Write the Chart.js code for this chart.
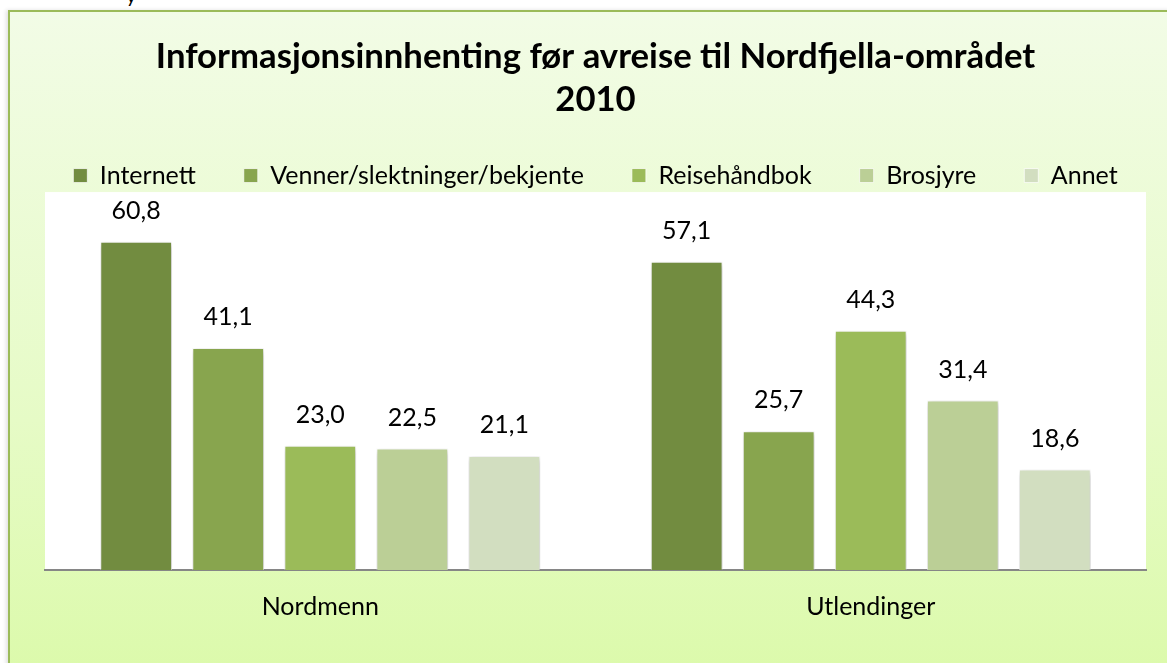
<!DOCTYPE html>
<html>
<head>
<meta charset="utf-8">
<script src="https://cdn.jsdelivr.net/npm/chart.js@4/dist/chart.umd.min.js"></script>
<style>
  html, body { margin: 0; padding: 0; width: 1167px; height: 663px; overflow: hidden; background: #fff; }
  #frame {
    position: absolute; left: 8px; top: 10px; width: 1180px; height: 680px;
    border-left: 2px solid #9bbb59; border-top: 2px solid #9bbb59;
    background: linear-gradient(to bottom, #f2fce6 0%, #e6fbc6 60%, #dbfaa9 100%);
    box-shadow: -2px 0 4px rgba(0,0,0,0.12);
  }
  #cut { position: absolute; left: 126px; top: -17px; font: 20px Lato, sans-serif; color: #000; }
  #wrap { position: absolute; left: 0; top: 0; width: 1167px; height: 663px; }
</style>
</head>
<body>
<div id="cut">y</div>
<div id="frame"></div>
<div id="wrap"><canvas id="myChart" width="1167" height="663"></canvas></div>
<script>
// data
const categories = ['Nordmenn', 'Utlendinger'];
const seriesNames = ['Internett', 'Venner/slektninger/bekjente', 'Reisehåndbok', 'Brosjyre', 'Annet'];
const internett = [60.8, 57.1];
const venner = [41.1, 25.7];
const reisehandbok = [23.0, 44.3];
const brosjyre = [22.5, 31.4];
const annet = [21.1, 18.6];
const titleLines = ['Informasjonsinnhenting før avreise til Nordfjella-området', '2010'];

const colors = ['#728c40', '#88a54e', '#9bbb59', '#bbcf96', '#d2dec0'];
const allValues = [internett, venner, reisehandbok, brosjyre, annet];

const fmt = v => v.toFixed(1).replace('.', ',');

// white plot area behind the bars
const plotBg = {
  id: 'plotBg',
  beforeDraw(chart) {
    const {ctx, chartArea: a} = chart;
    ctx.save();
    ctx.fillStyle = '#ffffff';
    ctx.fillRect(a.left, a.top, a.right - a.left, a.bottom - a.top);
    ctx.restore();
  }
};

// legend spacing is wide: keep it on one row and keep its box short
const legendFit = {
  id: 'legendFit',
  beforeUpdate(chart) {
    const lg = chart.legend;
    if (lg && !lg._patched) {
      const origFit = lg.fit;
      lg.fit = function () {
        this.maxWidth = 1300;
        origFit.call(this);
        this.height = 77;
      };
      const origDraw = lg.draw;
      lg.draw = function () {
        // widen both sides equally so nothing wraps, centre stays put
        this.left -= 100;
        this.right += 100;
        origDraw.call(this);
        this.left += 100;
        this.right -= 100;
      };
      lg._patched = true;
    }
  }
};

// soft shadow like the office chart
const barShadow = {
  id: 'barShadow',
  beforeDatasetsDraw(chart) {
    const ctx = chart.ctx;
    ctx.save();
    ctx.shadowColor = 'rgba(0,0,0,0.25)';
    ctx.shadowBlur = 6;
    ctx.shadowOffsetX = 1;
    ctx.shadowOffsetY = 2;
  },
  afterDatasetsDraw(chart) {
    chart.ctx.restore();
  }
};

// value labels above each bar
const valueLabels = {
  id: 'valueLabels',
  afterDraw(chart) {
    const ctx = chart.ctx;
    ctx.save();
    ctx.font = '25px Lato';
    ctx.fillStyle = '#000';
    ctx.textAlign = 'center';
    ctx.textBaseline = 'middle';
    chart.data.datasets.forEach((ds, i) => {
      const meta = chart.getDatasetMeta(i);
      meta.data.forEach((bar, j) => {
        ctx.fillText(fmt(ds.data[j]), bar.x, bar.y - 31);
      });
    });
    ctx.restore();
  }
};

const ctx = document.getElementById('myChart').getContext('2d');

const myChart = new Chart(ctx, {
  type: 'bar',
  data: {
    labels: categories,
    datasets: seriesNames.map((name, i) => ({
      label: name,
      data: allValues[i],
      backgroundColor: colors[i],
      borderColor: 'rgba(255,255,255,0.7)',
      borderWidth: 1,
      categoryPercentage: 0.836,
      barPercentage: 0.78
    }))
  },
  options: {
    responsive: false,
    animation: false,
    layout: {
      padding: {left: 45, right: 21, top: 0, bottom: 19}
    },
    plugins: {
      title: {
        display: true,
        text: titleLines,
        color: '#000',
        font: {family: 'Lato', size: 34.7, weight: 'bold', lineHeight: 1.24},
        padding: {top: 35, bottom: -6}
      },
      legend: {
        position: 'top',
        labels: {
          color: '#000',
          font: {family: 'Lato', size: 25},
          boxWidth: 14,
          boxHeight: 14,
          padding: 48
        }
      },
      tooltip: {enabled: false}
    },
    scales: {
      x: {
        grid: {display: false, drawTicks: false},
        border: {display: true, color: '#868686', width: 2},
        ticks: {color: '#000', font: {family: 'Lato', size: 25}, padding: 22}
      },
      y: {
        display: false,
        min: 0,
        max: 70
      }
    }
  },
  plugins: [plotBg, legendFit, barShadow, valueLabels]
});
</script>
</body>
</html>
